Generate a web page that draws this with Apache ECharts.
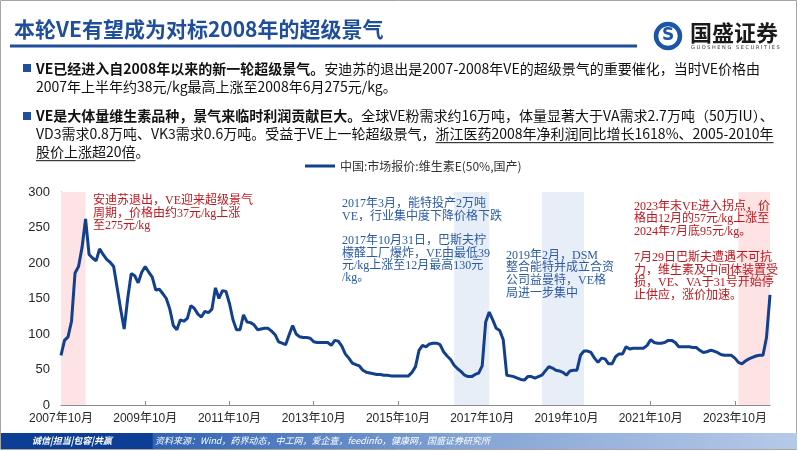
<!DOCTYPE html>
<html><head><meta charset="utf-8">
<script src="https://cdn.jsdelivr.net/npm/echarts@6/dist/echarts.min.js"></script>
<style>html,body{margin:0;padding:0;background:#fff}#c{width:802px;height:451px}</style>
</head><body><div id="c"></div>
<script>
// ---- data ----
const startYear = 2007, startMonth = 10, monthCount = 203;
const categories = [];
for (let i = 0; i < monthCount; i++) {
  const t = (startMonth - 1) + i;
  categories.push((startYear + Math.floor(t / 12)) + '年' + (t % 12 + 1) + '月');
}
const seriesName = '中国:市场报价:维生素E(50%,国产)';
const veValues = [
  70, 91, 96, 118, 186, 195, 222, 262, 212, 207,
  203, 220, 212, 205, 201, 195, 165, 135, 107, 150,
  185, 182, 172, 187, 195, 187, 180, 162, 163, 157,
  150, 135, 112, 106, 120, 118, 122, 140, 136, 128,
  124, 132, 130, 135, 165, 150, 161, 160, 143, 120,
  106, 106, 127, 117, 116, 113, 106, 107, 108, 108,
  104, 99, 89, 87, 85, 99, 112, 100, 96, 95,
  95, 94, 89, 88, 88, 88, 88, 84, 91, 90,
  83, 72, 66, 59, 57, 55, 49, 46, 45, 44,
  43, 43, 42, 42, 41, 41, 41, 41, 41, 41,
  46, 54, 77, 84, 82, 86, 87, 87, 85, 75,
  69, 64, 56, 51, 47, 42, 40, 40, 43, 45,
  55, 117, 131, 120, 108, 105, 92, 42, 41, 40,
  38, 36, 35, 40, 40, 38, 40, 42, 48, 54,
  52, 49, 48, 46, 42, 48, 49, 49, 70, 76,
  76, 74, 66, 60, 66, 65, 58, 58, 68, 72,
  72, 82, 79, 80, 80, 80, 80, 84, 92, 88,
  87, 87, 88, 91, 91, 88, 82, 82, 82, 82,
  81, 81, 77, 74, 75, 77, 76, 74, 71, 70,
  70, 70, 66, 60, 58, 62, 65, 67, 69, 70,
  70, 95, 155
];
const pinkBands = [['2007年10月', '2008年5月'], ['2023年11月', '2024年8月']];
const blueBands = [['2017年2月', '2017年12月'], ['2019年3月', '2020年3月']];
const yMin = 0, yMax = 300, yInterval = 50;

// ---- texts ----
const titleText = '本轮VE有望成为对标2008年的超级景气';
const bullet1 = [
  [{t: 'VE已经进入自2008年以来的新一轮超级景气。', b: true}, {t: '安迪苏的退出是2007-2008年VE的超级景气的重要催化，当时VE价格由'}],
  [{t: '2007年上半年约38元/kg最高上涨至2008年6月275元/kg。'}]
];
const bullet2 = [
  [{t: 'VE是大体量维生素品种，景气来临时利润贡献巨大。', b: true}, {t: '全球VE粉需求约16万吨，体量显著大于VA需求2.7万吨（50万IU）、'}],
  [{t: 'VD3需求0.8万吨、VK3需求0.6万吨。受益于VE上一轮超级景气，'}, {t: '浙江医药2008年净利润同比增长1618%、2005-2010年', u: true}],
  [{t: '股价上涨超20倍', u: true}, {t: '。'}]
];
const note1 = '安迪苏退出，VE迎来超级景气\n周期，价格由约37元/kg上涨\n至275元/kg';
const note2 = '2017年3月，能特投产2万吨\nVE，行业集中度下降价格下跌\n\n2017年10月31日，巴斯夫柠\n檬醛工厂爆炸，VE由最低39\n元/kg上涨至12月最高130元\n/kg。';
const note3 = '2019年2月，DSM\n整合能特并成立合资\n公司益曼特，VE格\n局进一步集中';
const note4 = '2023年末VE进入拐点，价\n格由12月的57元/kg上涨至\n2024年7月底95元/kg。\n\n7月29日巴斯夫遭遇不可抗\n力，维生素及中间体装置受\n损，VE、VA于31号开始停\n止供应，涨价加速。';
const footerLeft = '诚信|担当|包容|共赢';
const footerSource = '资料来源：Wind，药界动态，中工网，爱企查，feedinfo，健康网，国盛证券研究所';

// ---- layout helpers ----
const CJK = '"Noto Sans CJK SC"';
const SERIF = '"Liberation Serif", "Noto Sans CJK SC"';
const mctx = document.createElement('canvas').getContext('2d');
function richLine(segs, x, y, size, color) {
  const els = [];
  let cx = x;
  segs.forEach(s => {
    const f = (s.b ? 'bold ' : '') + size + 'px ' + CJK;
    mctx.font = f;
    const w = mctx.measureText(s.t).width;
    els.push({type: 'text', x: cx, y: y, z: 10,
      style: {text: s.t, font: f, fill: color, verticalAlign: 'middle', align: 'left'}});
    if (s.u) els.push({type: 'line', z: 10, shape: {x1: cx, y1: y + size * 0.62, x2: cx + w, y2: y + size * 0.62},
      style: {stroke: color, lineWidth: 1}});
    cx += w;
  });
  return els;
}
const blue = '#1f4e9c';
const red = '#c0161d';
const noteBlue = '#2b5aa5';

const graphics = [];
graphics.push({type: 'rect', z: 0, shape: {x: 0.5, y: 0.5, width: 796, height: 449}, style: {fill: 'none', stroke: '#a6a6a6', lineWidth: 1}});
graphics.push({type: 'text', x: 14, y: 29, z: 10, style: {text: titleText, font: 'bold 21px ' + CJK, fill: blue, verticalAlign: 'middle'}});
graphics.push({type: 'line', z: 10, shape: {x1: 10, y1: 46, x2: 637, y2: 46}, style: {stroke: blue, lineWidth: 3}});
graphics.push({type: 'circle', z: 10, shape: {cx: 668, cy: 36, r: 12}, style: {fill: 'none', stroke: '#1a55a8', lineWidth: 4.5}});
graphics.push({type: 'text', x: 668, y: 36, z: 11, style: {text: 'S', font: 'bold 17px "DejaVu Sans"', fill: '#1a55a8', align: 'center', verticalAlign: 'middle'}});
graphics.push({type: 'text', x: 690, y: 33, z: 10, style: {text: '国盛证券', font: 'bold 22px ' + CJK, fill: '#1a1a1a', verticalAlign: 'middle'}});
graphics.push({type: 'text', x: 691, y: 48, z: 10, style: {text: 'G U O S H E N G   S E C U R I T I E S', font: '5px "DejaVu Sans"', fill: '#333', verticalAlign: 'middle'}});
const bsize = 14;
graphics.push({type: 'rect', z: 10, shape: {x: 23, y: 64, width: 8, height: 8}, style: {fill: blue}});
graphics.push({type: 'rect', z: 10, shape: {x: 23, y: 112, width: 8, height: 8}, style: {fill: blue}});
[69, 87].forEach((y, i) => richLine(bullet1[i], 36, y, bsize, '#111').forEach(e => graphics.push(e)));
[116, 134, 152].forEach((y, i) => richLine(bullet2[i], 36, y, bsize, '#111').forEach(e => graphics.push(e)));
function note(text, x, y, color, lh) {
  graphics.push({type: 'text', x: x, y: y, z: 10, style: {text: text, font: '12px ' + SERIF, fill: color, lineHeight: lh, verticalAlign: 'top'}});
}
note(note1, 93, 195, red, 12.5);
note(note2, 342, 198, noteBlue, 12.3);
note(note3, 506, 249, noteBlue, 12.8);
note(note4, 634, 200, red, 12.8);
graphics.push({type: 'rect', z: 10, shape: {x: 1, y: 433, width: 796, height: 16},
  style: {fill: new echarts.graphic.LinearGradient(0, 0, 1, 0, [
    {offset: 0, color: '#0b3e94'}, {offset: 0.19, color: '#0b3e94'}, {offset: 0.191, color: '#2f62b3'},
    {offset: 0.6, color: '#86a6d6'}, {offset: 1, color: '#b6c9e8'}])}});
graphics.push({type: 'text', x: 32, y: 441, z: 11, style: {text: footerLeft, font: 'italic bold 9px ' + CJK, fill: '#fff', verticalAlign: 'middle'}});
graphics.push({type: 'text', x: 155, y: 441, z: 11, style: {text: footerSource, font: 'italic 9px ' + CJK, fill: '#fff', verticalAlign: 'middle'}});

const chart = echarts.init(document.getElementById('c'));
chart.setOption({
  animation: false,
  backgroundColor: '#fff',
  graphic: graphics,
  legend: {
    data: [seriesName], left: 300, top: 155, itemWidth: 30, itemHeight: 3, icon: 'rect', itemGap: 4,
    textStyle: {fontSize: 12, color: '#333', fontFamily: CJK}
  },
  grid: {left: 61, right: 32, top: 192, bottom: 46, containLabel: false},
  xAxis: {
    type: 'category', data: categories, boundaryGap: false,
    axisLine: {lineStyle: {color: '#8c8c8c', width: 1}},
    axisTick: {show: true, inside: true, interval: 23, length: 4, lineStyle: {color: '#8c8c8c'}},
    axisLabel: {interval: 23, color: '#262626', fontSize: 12, fontFamily: '"Liberation Sans", ' + CJK, margin: 8},
    splitLine: {show: false}
  },
  yAxis: {
    type: 'value', min: yMin, max: yMax, interval: yInterval,
    axisLine: {show: true, lineStyle: {color: '#8c8c8c'}},
    axisTick: {show: true, inside: true, length: 3, lineStyle: {color: '#8c8c8c'}},
    axisLabel: {color: '#262626', fontSize: 13, fontFamily: '"Liberation Sans"', margin: 11},
    splitLine: {show: false}
  },
  series: [
    {
      name: 'bands', type: 'line', data: [], z: 1, silent: true,
      markArea: {
        silent: true,
        data: pinkBands.map(b => [{xAxis: b[0], itemStyle: {color: '#fde3e4'}}, {xAxis: b[1]}])
          .concat(blueBands.map(b => [{xAxis: b[0], itemStyle: {color: '#e8eef8'}}, {xAxis: b[1]}]))
      }
    },
    {
      name: seriesName, type: 'line', data: veValues, z: 3, showSymbol: false, symbol: 'none',
      lineStyle: {color: '#123f8e', width: 3}, itemStyle: {color: '#123f8e'}
    }
  ]
});
</script></body></html>
